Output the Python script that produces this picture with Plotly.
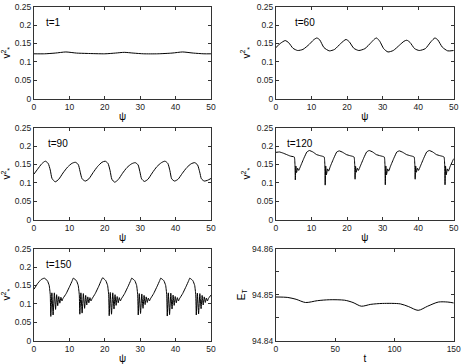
import plotly.graph_objects as go
from plotly.subplots import make_subplots

# t = 1
psi_t1 = [0, 3, 6, 9, 12, 15, 20, 23, 25.5, 28, 31, 35, 39, 42, 45, 48, 50]
v_t1 = [0.122, 0.122, 0.124, 0.127, 0.124, 0.123, 0.122, 0.124, 0.126, 0.124,
        0.122, 0.122, 0.124, 0.127, 0.124, 0.122, 0.122]

# t = 60
psi_t60 = [0, 1.2, 2.6, 3.6, 4.8, 6.1, 7.6, 9.4, 10.6, 11.5, 12.3, 13.5, 15.0,
           16.5, 18.2, 19.7, 20.6, 21.9, 23.3, 25.0, 26.8, 27.7, 28.3, 29.2,
           30.3, 31.5, 33.0, 34.8, 36.0, 36.8, 37.7, 39.0, 40.3, 42.0, 43.6,
           44.7, 45.5, 46.8, 48.3, 50]
v_t60 = [0.139, 0.150, 0.158, 0.152, 0.137, 0.131, 0.134, 0.148, 0.160, 0.165,
         0.160, 0.139, 0.130, 0.134, 0.150, 0.161, 0.155, 0.137, 0.131, 0.136,
         0.153, 0.162, 0.165, 0.156, 0.136, 0.127, 0.131, 0.146, 0.156, 0.159,
         0.153, 0.136, 0.131, 0.136, 0.155, 0.165, 0.160, 0.140, 0.130, 0.131]

# t = 90
psi_t90 = [0, 1.0, 2.2, 3.2, 4.0, 4.6, 5.1, 6.0, 7.0, 8.2, 9.5, 10.7, 11.7,
           12.5, 13.0, 13.6, 14.5, 15.5, 16.7, 18.0, 19.2, 20.1, 20.9, 21.5,
           22.0, 22.8, 23.8, 25.0, 26.3, 27.6, 28.6, 29.4, 29.9, 30.4, 31.2,
           32.2, 33.4, 34.7, 36.0, 37.0, 37.8, 38.4, 38.9, 39.7, 40.7, 41.9,
           43.2, 44.4, 45.4, 46.2, 46.8, 47.3, 48.1, 49.0, 50]
v_t90 = [0.124, 0.137, 0.152, 0.159, 0.153, 0.135, 0.112, 0.103, 0.110, 0.127,
         0.143, 0.153, 0.156, 0.150, 0.132, 0.111, 0.105, 0.111, 0.128, 0.145,
         0.156, 0.159, 0.153, 0.133, 0.110, 0.102, 0.109, 0.126, 0.142, 0.152,
         0.155, 0.149, 0.131, 0.111, 0.104, 0.110, 0.127, 0.144, 0.155, 0.159,
         0.153, 0.133, 0.111, 0.105, 0.110, 0.126, 0.142, 0.152, 0.155, 0.149,
         0.130, 0.111, 0.105, 0.107, 0.112]

# t = 120
psi_t120 = [0, 1.0, 2.0, 3.0, 4.0, 5.0, 5.2, 5.35, 5.45, 5.6, 5.8, 6.1, 6.4, 6.9,
            7.9, 8.7, 9.4, 10.4, 11.4, 12.4, 13.2, 13.6, 13.75, 13.85, 14.0,
            14.2, 14.5, 14.8, 15.3, 16.3, 17.1, 17.8, 18.8, 19.8, 20.8, 21.6,
            22.0, 22.15, 22.25, 22.4, 22.6, 22.9, 23.2, 23.7, 24.7, 25.5, 26.2,
            27.2, 28.2, 29.2, 30.0, 30.5, 30.65, 30.75, 30.9, 31.1, 31.4, 31.7,
            32.2, 33.2, 34.0, 34.7, 35.7, 36.7, 37.7, 38.5, 38.9, 39.05, 39.15,
            39.3, 39.5, 39.8, 40.1, 40.6, 41.6, 42.4, 43.1, 44.1, 45.1, 46.1,
            46.9, 47.3, 47.45, 47.55, 47.7, 47.9, 48.2, 48.5, 49.0, 50]
v_t120 = [0.183, 0.184, 0.181, 0.177, 0.173, 0.171, 0.170, 0.150, 0.108, 0.146,
          0.128, 0.140, 0.134, 0.145, 0.168, 0.184, 0.188, 0.184, 0.177, 0.174,
          0.172, 0.170, 0.150, 0.094, 0.146, 0.122, 0.138, 0.132, 0.145, 0.168,
          0.184, 0.187, 0.183, 0.177, 0.174, 0.172, 0.170, 0.150, 0.110, 0.145,
          0.129, 0.140, 0.134, 0.145, 0.168, 0.184, 0.188, 0.184, 0.177, 0.174,
          0.172, 0.170, 0.150, 0.095, 0.146, 0.122, 0.138, 0.132, 0.145, 0.168,
          0.184, 0.187, 0.183, 0.177, 0.174, 0.172, 0.170, 0.150, 0.110, 0.146,
          0.129, 0.140, 0.134, 0.145, 0.168, 0.184, 0.188, 0.184, 0.177, 0.174,
          0.172, 0.170, 0.150, 0.095, 0.146, 0.122, 0.138, 0.132, 0.145, 0.166]

# t = 150
psi_t150 = [0, 1.0, 2.0, 2.9, 3.8, 4.3, 4.6, 4.75, 5.05, 5.4, 5.75, 6.1, 6.4, 6.7,
            7.0, 7.3, 7.6, 7.9, 8.2, 9.1, 10.1, 10.8, 11.1,
            12.0, 12.5, 12.8, 12.95, 13.25, 13.6, 13.95, 14.3, 14.6, 14.9, 15.2,
            15.5, 15.8, 16.1, 16.4, 17.3, 18.3, 19.0, 19.4,
            20.3, 20.8, 21.1, 21.25, 21.55, 21.9, 22.25, 22.6, 22.9, 23.2, 23.5,
            23.8, 24.1, 24.4, 24.7, 25.6, 26.6, 27.3, 27.6,
            28.5, 29.0, 29.3, 29.45, 29.75, 30.1, 30.45, 30.8, 31.1, 31.4, 31.7,
            32.0, 32.3, 32.6, 32.9, 33.8, 34.8, 35.5, 35.8,
            36.7, 37.2, 37.5, 37.65, 37.95, 38.3, 38.65, 39.0, 39.3, 39.6, 39.9,
            40.2, 40.5, 40.8, 41.1, 42.0, 43.0, 43.7, 44.0,
            44.9, 45.4, 45.7, 45.85, 46.15, 46.5, 46.85, 47.2, 47.5, 47.8, 48.1,
            48.4, 48.7, 49.0, 49.3, 50]
v_t150 = [0.140, 0.155, 0.166, 0.170, 0.163, 0.150, 0.125, 0.066, 0.130, 0.070,
          0.130, 0.085, 0.125, 0.095, 0.120, 0.102, 0.118, 0.108, 0.115, 0.128,
          0.148, 0.163, 0.170,
          0.163, 0.150, 0.125, 0.072, 0.130, 0.075, 0.128, 0.088, 0.123, 0.097,
          0.119, 0.103, 0.117, 0.108, 0.114, 0.128, 0.148, 0.164, 0.171,
          0.163, 0.150, 0.125, 0.068, 0.131, 0.072, 0.130, 0.086, 0.125, 0.096,
          0.120, 0.103, 0.117, 0.108, 0.114, 0.128, 0.148, 0.163, 0.170,
          0.163, 0.150, 0.125, 0.070, 0.128, 0.074, 0.127, 0.088, 0.123, 0.098,
          0.119, 0.104, 0.116, 0.108, 0.114, 0.128, 0.148, 0.163, 0.170,
          0.163, 0.150, 0.125, 0.067, 0.130, 0.071, 0.129, 0.086, 0.124, 0.096,
          0.120, 0.103, 0.117, 0.108, 0.114, 0.128, 0.148, 0.163, 0.170,
          0.163, 0.150, 0.125, 0.070, 0.129, 0.073, 0.128, 0.087, 0.123, 0.097,
          0.119, 0.104, 0.116, 0.108, 0.115, 0.124]

# energia total
t_vals = [0, 10, 17, 25, 35, 45, 58, 65, 72, 80, 90, 105, 112, 120, 128, 137, 145, 150]
E_vals = [94.8495, 94.8494, 94.8490, 94.8483, 94.8487, 94.8489, 94.8488,
          94.8483, 94.8475, 94.8479, 94.8481, 94.8480, 94.8474, 94.8466,
          94.8475, 94.8484, 94.8484, 94.8482]

panels = [(psi_t1, v_t1, "t=1", 2.7, 0.6),
          (psi_t60, v_t60, "t=60", 4.7, 0.6),
          (psi_t90, v_t90, "t=90", 3.3, 0.6),
          (psi_t120, v_t120, "t=120", 2.5, 0.3),
          (psi_t150, v_t150, "t=150", 2.9, 0.3)]

FONT = "Liberation Sans, Arial, sans-serif"

fig = make_subplots(rows=3, cols=2)

xdom = [[0.0734, 0.4557], [0.596, 0.98]]
ydom = [[0.7288, 0.9816], [0.3964, 0.6492], [0.064, 0.3168]]

axis_style = dict(showline=True, linecolor="#333", linewidth=1, mirror="ticks",
                  ticks="inside", ticklen=3, tickcolor="#333", showgrid=False,
                  zeroline=False, automargin=False,
                  tickfont=dict(size=8.5, color="#222", family=FONT))

for k, (x, y, lab, ax_, sm) in enumerate(panels):
    r = k // 2 + 1
    c = k % 2 + 1
    fig.add_trace(go.Scatter(x=x, y=y, mode="lines",
                             line=dict(color="black", width=1, shape="spline", smoothing=sm)),
                  row=r, col=c)
    fig.update_xaxes(range=[0, 50], tickvals=[0, 10, 20, 30, 40, 50],
                     title=dict(text="ψ", font=dict(size=10, family=FONT), standoff=2),
                     domain=xdom[c-1], row=r, col=c, **axis_style)
    fig.update_yaxes(range=[0, 0.25], tickvals=[0, 0.05, 0.1, 0.15, 0.2, 0.25],
                     ticktext=["0", "0.05", "0.1", "0.15", "0.2", "0.25"],
                     title=dict(text="v<sup>2</sup><sub>*</sub>", font=dict(size=10, family=FONT), standoff=4),
                     domain=ydom[r-1], row=r, col=c, **axis_style)
    fig.add_annotation(x=ax_, y=0.207, text=lab, showarrow=False, xanchor="left",
                       font=dict(size=10, family=FONT, color="black"), row=r, col=c)

fig.add_trace(go.Scatter(x=t_vals, y=E_vals, mode="lines",
                         line=dict(color="black", width=1, shape="spline", smoothing=0.8)),
              row=3, col=2)
fig.update_xaxes(range=[0, 150], tickvals=[0, 50, 100, 150],
                 title=dict(text="t", font=dict(size=10, family=FONT), standoff=2),
                 domain=xdom[1], row=3, col=2, **axis_style)
fig.update_yaxes(range=[94.84, 94.86], tickvals=[94.84, 94.845, 94.85, 94.855, 94.86],
                 ticktext=["94.84", "", "94.85", "", "94.86"],
                 title=dict(text="E<sub>T</sub>", font=dict(size=10, family=FONT), standoff=4),
                 domain=ydom[2], row=3, col=2, **axis_style)

fig.update_layout(width=463, height=364, margin=dict(l=0, r=0, t=0, b=0),
                  paper_bgcolor="white", plot_bgcolor="white", showlegend=False,
                  font=dict(family=FONT, color="black"))

# sense marge del body perquè la figura quedi a (0,0)
fig.write_html("out.html", config={"displayModeBar": False},
               post_script="document.body.style.margin='0';document.body.style.overflow='hidden';")
